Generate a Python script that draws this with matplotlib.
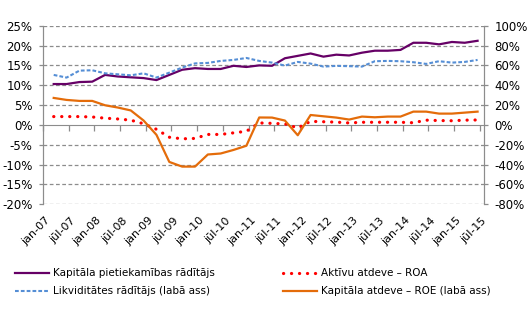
import matplotlib
matplotlib.use("Agg")
import matplotlib.pyplot as plt
import numpy as np

# quarterly data, Mar-07 ... Jun-15 (placed on a monthly category axis jan-07 ... jūl-15)
months = np.arange(2, 102, 3)
n_months = 103
tick_labels = []
for yr in range(7, 16):
    tick_labels += [f"jan-{yr:02d}", f"jūl-{yr:02d}"]

car = [10.3, 10.3, 10.8, 10.9, 12.6, 12.2, 12.0, 11.8, 11.3, 12.6,
       13.9, 14.3, 14.1, 14.1, 14.9, 14.6, 15.0, 14.9, 16.8, 17.4,
       18.0, 17.2, 17.7, 17.5, 18.2, 18.7, 18.7, 18.9, 20.7, 20.7,
       20.3, 20.9, 20.7, 21.2]
liq = [50.4, 47.7, 54.7, 55.1, 52.0, 51.0, 50.0, 52.0, 47.7, 52.7,
       57.8, 62.0, 62.5, 64.5, 65.5, 67.5, 64.5, 62.8, 59.8, 63.5,
       61.8, 58.8, 59.5, 59.2, 58.8, 64.2, 64.5, 64.2, 63.2, 61.5,
       64.2, 62.8, 63.5, 65.5]
roa = [2.1, 2.1, 2.1, 2.0, 1.7, 1.5, 1.2, 0.3, -1.1, -3.1,
       -3.5, -3.4, -2.4, -2.4, -2.0, -1.6, 0.5, 0.4, 0.25, -0.75,
       0.9, 0.8, 0.7, 0.5, 0.67, 0.67, 0.67, 0.67, 0.55, 1.2,
       1.1, 1.05, 1.2, 1.25]
roe = [27.2, 25.2, 24.2, 24.2, 19.8, 17.5, 14.6, 4.4, -10.0, -37.3,
       -42.0, -42.0, -29.8, -28.8, -25.2, -21.0, 7.5, 7.4, 4.4, -10.4,
       10.0, 8.7, 7.4, 5.4, 8.4, 7.7, 8.4, 8.4, 13.4, 13.4,
       11.4, 11.4, 12.4, 13.4]

names = ["Kapitāla pietiekamības rādītājs", "Likviditātes rādītājs (labā ass)",
         "Aktīvu atdeve – ROA", "Kapitāla atdeve – ROE (labā ass)"]

plt.rcParams['font.family'] = ['DejaVu Sans']
plt.rcParams['font.size'] = 8

fig = plt.figure(figsize=(5.28, 3.10), dpi=100)
ax = fig.add_axes([43/528, 1-204.3/310, (484-43)/528, (204.3-25.7)/310])
ax2 = ax.twinx()

grid_c = "#8c8c8c"
ax.set_xlim(-0.5, n_months - 0.5)
ax.set_ylim(-20, 25)
ax.set_yticks(np.arange(-20, 26, 5))
ax.set_yticklabels([f"{v}%" for v in range(-20, 26, 5)])
ax2.set_ylim(-80, 100)
ax2.set_yticks(np.arange(-80, 101, 20))
ax2.set_yticklabels([f"{v}%" for v in range(-80, 101, 20)])

for v in range(-20, 26, 5):
    if v != 0:
        ax.axhline(v, color=grid_c, lw=0.9, ls=(0, (3, 2)), zorder=0)

# category axis sits at 0 with tick marks between groups of 6 months
ax.spines['bottom'].set_position(('data', 0))
ax.spines['bottom'].set_color(grid_c)
ax.set_xticks([])
ax.set_xticks(np.arange(-0.5, n_months, 6), minor=True)
ax.tick_params(axis='x', which='minor', length=4, color=grid_c, direction='out', width=0.9)

sec = ax.secondary_xaxis(-0.035)
sec.set_xticks(np.arange(0, n_months, 6))
sec.set_xticklabels(tick_labels, rotation=45, ha='right', va='top', rotation_mode='anchor')
sec.tick_params(length=0, labelsize=8)
sec.spines['bottom'].set_visible(False)

for a in (ax, ax2):
    a.spines['top'].set_visible(False)
    a.spines['left'].set_color(grid_c)
    a.spines['right'].set_color(grid_c)
    a.tick_params(axis='y', length=3, color=grid_c, width=0.9, pad=4.5, labelsize=8.5)
ax2.spines['bottom'].set_visible(False)

l1, = ax.plot(months, car, color="#660066", lw=1.6, zorder=4)
l3, = ax.plot(months, roa, color="#ff0000", lw=2.3, ls=(0, (0.05, 2.45)),
              dash_capstyle='round', zorder=4)
l2, = ax2.plot(months, liq, color="#558ed5", lw=1.5, ls=(0, (1.8, 1.0)), zorder=3)
l4, = ax2.plot(months, roe, color="#e46c0a", lw=1.6, zorder=3)

leg_kw = dict(loc='upper left', frameon=False, borderpad=0, borderaxespad=0,
              handlelength=3.3, handletextpad=0.35, labelspacing=0.75, fontsize=7.5)
fig.legend([l1, l2], names[:2], bbox_to_anchor=(15/528, 1-268.5/310), **leg_kw)
fig.legend([l3, l4], names[2:], bbox_to_anchor=(283/528, 1-268.5/310), **leg_kw)

fig.savefig("out.png", dpi=100)
